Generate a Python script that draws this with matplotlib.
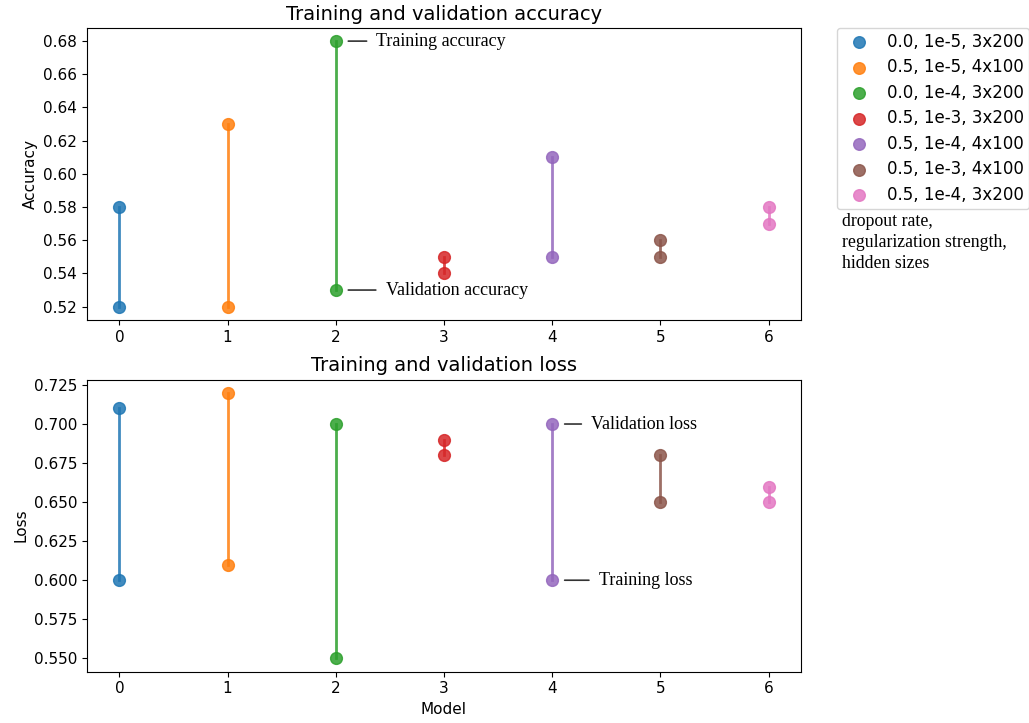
import matplotlib
matplotlib.use("Agg")
import matplotlib.pyplot as plt
from matplotlib.ticker import MultipleLocator

models = [0, 1, 2, 3, 4, 5, 6]
labels = ["0.0, 1e-5, 3x200", "0.5, 1e-5, 4x100", "0.0, 1e-4, 3x200", "0.5, 1e-3, 3x200",
          "0.5, 1e-4, 4x100", "0.5, 1e-3, 4x100", "0.5, 1e-4, 3x200"]
train_acc = [0.58, 0.63, 0.68, 0.55, 0.61, 0.56, 0.58]
val_acc = [0.52, 0.52, 0.53, 0.54, 0.55, 0.55, 0.57]
train_loss = [0.60, 0.61, 0.55, 0.68, 0.60, 0.65, 0.65]
val_loss = [0.71, 0.72, 0.70, 0.69, 0.70, 0.68, 0.66]

plt.rcParams['font.size'] = 11
colors = plt.rcParams['axes.prop_cycle'].by_key()['color']
serif = "Liberation Serif"

fig, (ax1, ax2) = plt.subplots(2, 1, figsize=(10.29, 7.23), dpi=100)
fig.subplots_adjust(left=0.0845, right=0.7784, top=0.9615, bottom=0.0711, hspace=0.204)

for i in models:
    c = colors[i]
    ax1.plot([i, i], [val_acc[i], train_acc[i]], color=c, lw=2, marker='o', ms=8.5, alpha=0.85)
    ax1.scatter([], [], color=c, s=70, alpha=0.85, label=labels[i])
    ax2.plot([i, i], [train_loss[i], val_loss[i]], color=c, lw=2, marker='o', ms=8.5, alpha=0.85)

ax1.yaxis.set_major_locator(MultipleLocator(0.02))

ax1.set_title("Training and validation accuracy", fontsize=14)
ax1.set_ylabel("Accuracy")
ax2.set_title("Training and validation loss", fontsize=14)
ax2.set_ylabel("Loss")
ax2.set_xlabel("Model")

arrow = dict(arrowstyle='-', color='#333333', lw=1.2, shrinkA=5, shrinkB=9)
ax1.annotate("Training accuracy", xy=(2, train_acc[2]), xytext=(2.375, train_acc[2]),
             va='center', fontsize=13, family=serif, arrowprops=arrow)
ax1.annotate("Validation accuracy", xy=(2, val_acc[2]), xytext=(2.46, val_acc[2]),
             va='center', fontsize=13, family=serif, arrowprops=arrow)
ax2.annotate("Validation loss", xy=(4, val_loss[4]), xytext=(4.36, val_loss[4]),
             va='center', fontsize=13, family=serif, arrowprops=arrow)
ax2.annotate("Training loss", xy=(4, train_loss[4]), xytext=(4.43, train_loss[4]),
             va='center', fontsize=13, family=serif, arrowprops=arrow)

ax1.legend(loc='upper left', bbox_to_anchor=(1.0504, 1.0), fontsize=12, labelspacing=0.45,
           handlelength=2.0, handletextpad=0.7, borderpad=0.3, borderaxespad=0)
fig.text(0.818, 0.705, "dropout rate,\nregularization strength,\nhidden sizes",
         family=serif, fontsize=12.8, va='top', ha='left', linespacing=1.3)

fig.savefig("out.png")
